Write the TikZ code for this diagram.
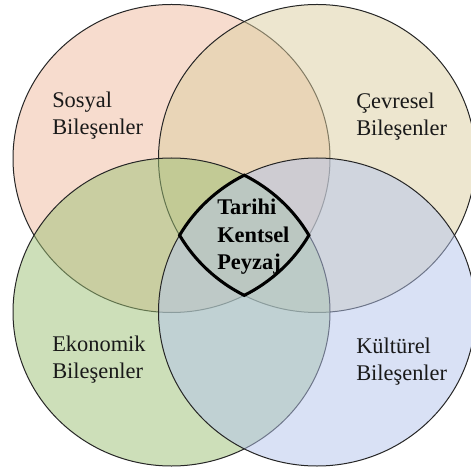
\documentclass[tikz,border=0pt]{standalone}
\usepackage{fontspec}
\setmainfont{Liberation Serif}
\definecolor{cSos}{RGB}{241,187,159}
\definecolor{cCev}{RGB}{221,207,161}
\definecolor{cEko}{RGB}{157,193,117}
\definecolor{cKul}{RGB}{181,197,237}
\tikzset{
  venn/.style={fill=#1, fill opacity=0.5, draw=black!85, line width=0.75pt},
  lbl/.style={anchor=base west, inner sep=0pt, align=left, font=\fontsize{16.8}{20.25}\selectfont, text=black!90},
  core/.style={anchor=base west, inner sep=0pt, align=left, font=\fontsize{16.8}{20.25}\selectfont\bfseries},
  lens/.style={draw=black, line width=2.3pt, line join=miter},
  earc/.style={x radius=118.875pt, y radius=115.5pt}
}
\begin{document}
\begin{tikzpicture}[x=0.75pt,y=-0.75pt]
\useasboundingbox (0,0) rectangle (470,473);
\fill[white] (0,0) rectangle (470,473);
% circles (drawn in stacking order)
\path[venn=cSos] (171.5,158.5) ellipse[x radius=118.875pt, y radius=115.5pt];
\path[venn=cCev] (317,158.5) ellipse[x radius=118.875pt, y radius=115.5pt];
\path[venn=cEko] (171.5,312) ellipse[x radius=118.875pt, y radius=115.5pt];
\path[venn=cKul] (317,312) ellipse[x radius=118.875pt, y radius=115.5pt];
% central four-way intersection (canvas angles, y up)
\draw[lens] (244.25,175.2)
  arc[earc, start angle=62.68, end angle=29.89]
  arc[earc, start angle=-29.89, end angle=-62.68]
  arc[earc, start angle=-117.32, end angle=-150.11]
  arc[earc, start angle=150.11, end angle=117.32]
  -- cycle;
% labels (anchor = baseline of last line)
\node[lbl] (sos) at (52,135) {Sosyal\\Bileşenler};
\node[lbl] (cev) at (356,136) {Çevresel\\Bileşenler};
\node[lbl] (eko) at (52,378) {Ekonomik\\Bileşenler};
\node[lbl] (kul) at (356,380) {Kültürel\\Bileşenler};
\node[core] (tkp) at (217,269) {Tarihi\\Kentsel\\Peyzaj};
\end{tikzpicture}
\end{document}
